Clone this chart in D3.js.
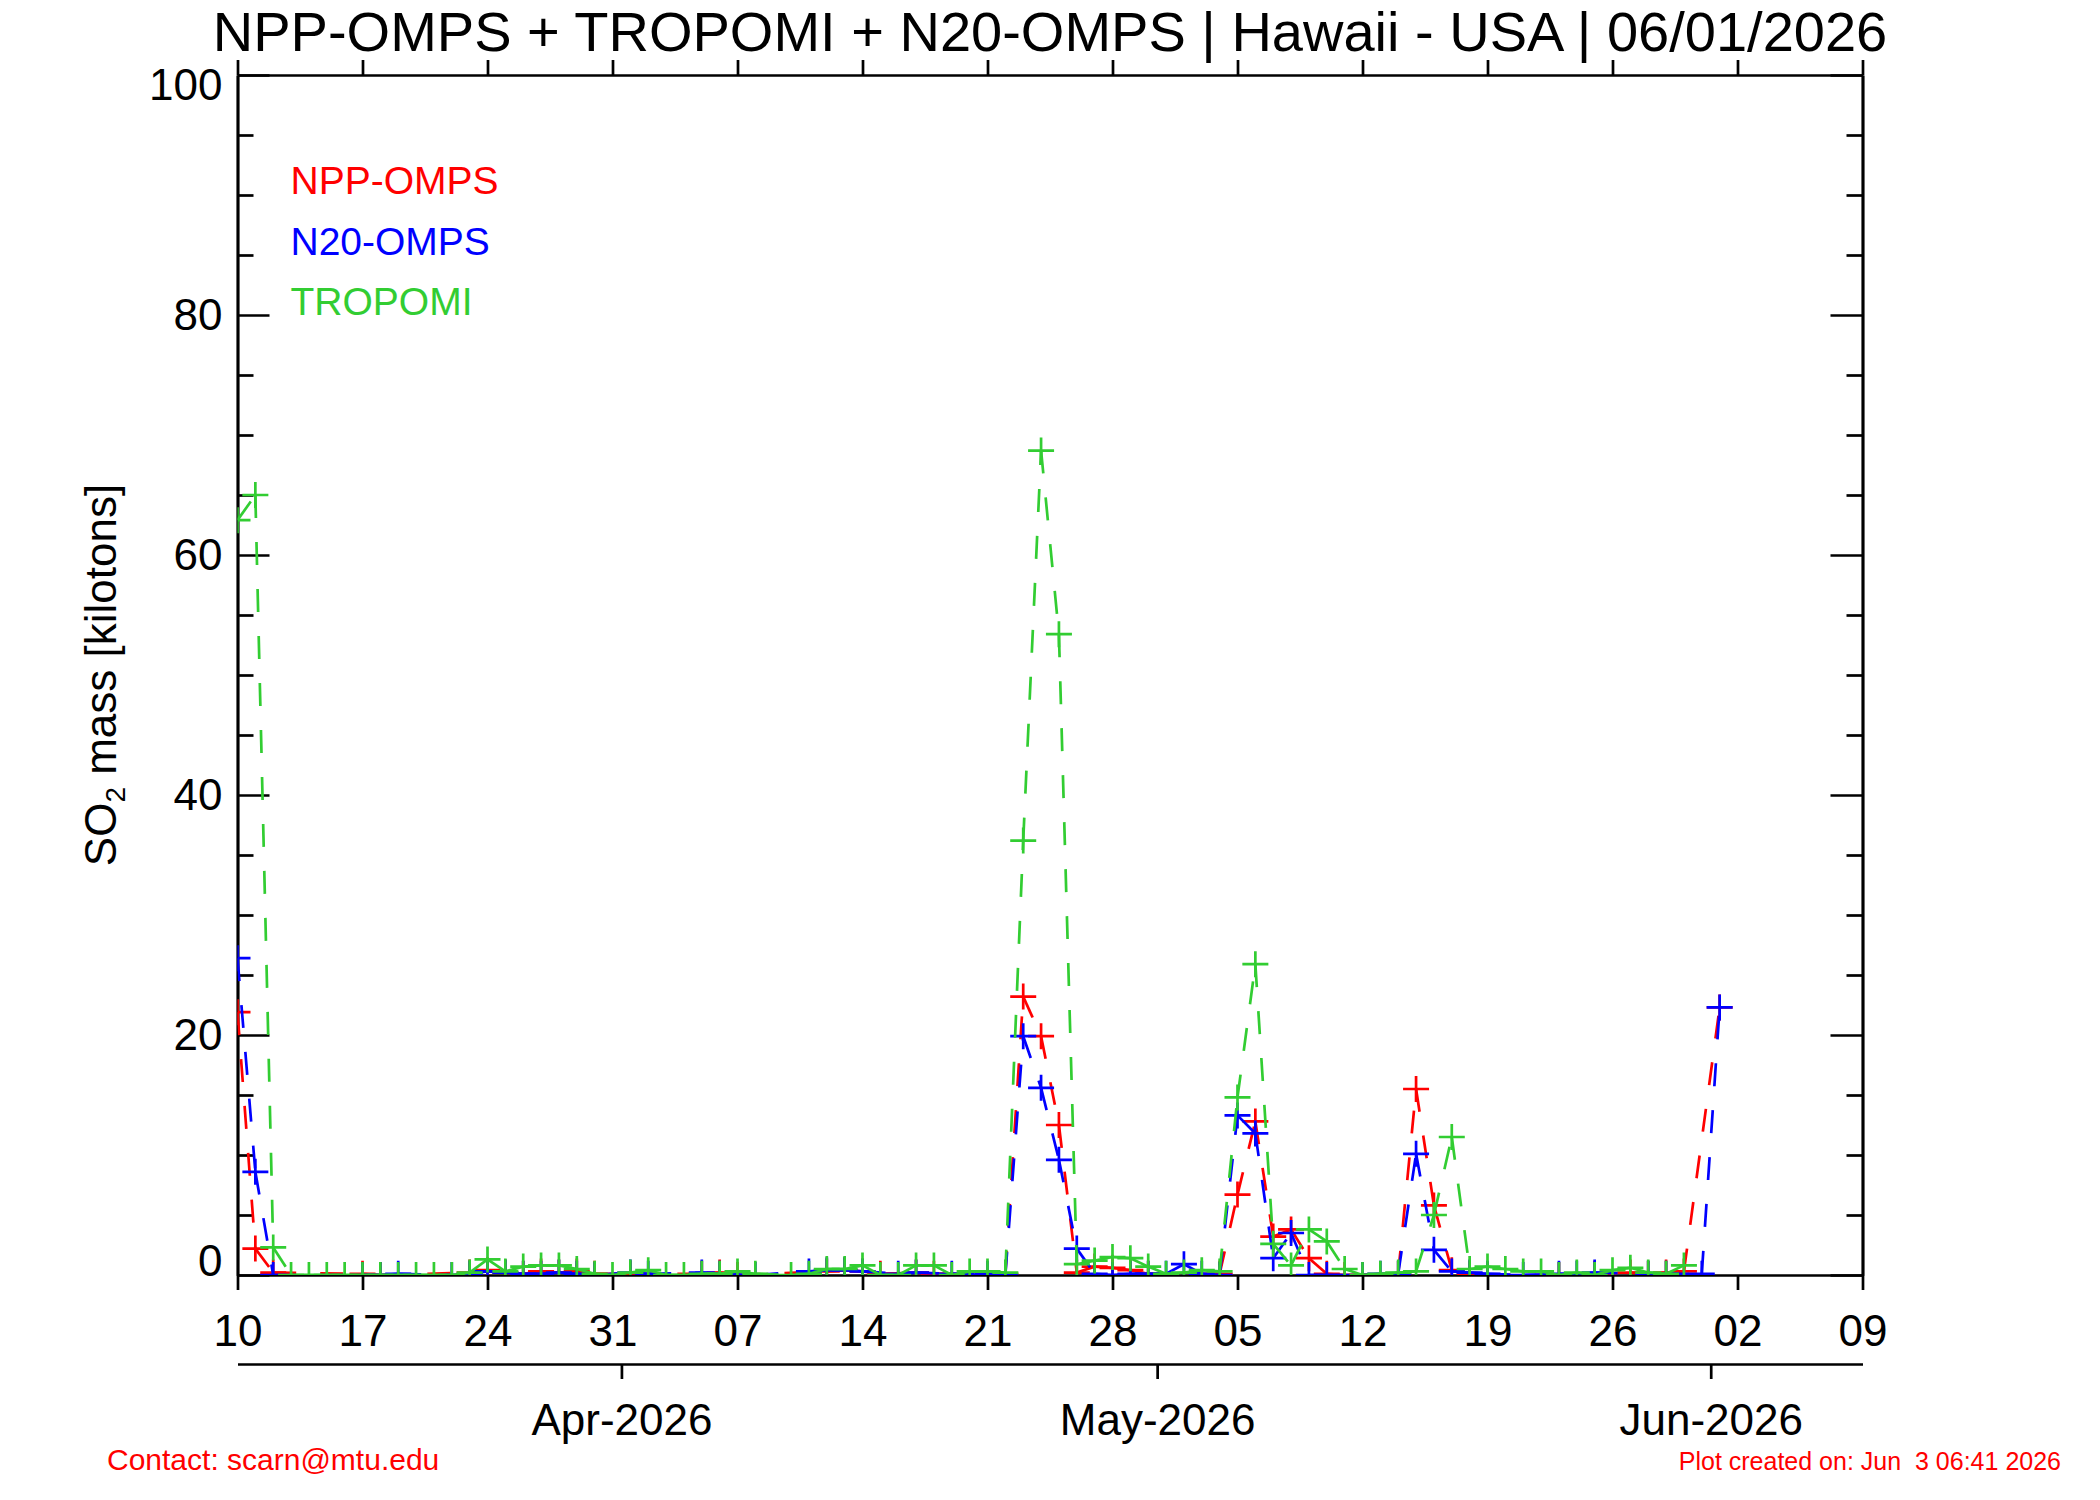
<!DOCTYPE html>
<html>
<head>
<meta charset="utf-8">
<script src="https://cdn.jsdelivr.net/npm/d3@7"></script>
<style>
  body { margin: 0; background: #fff; }
  text { font-family: "Liberation Sans", Arial, Helvetica, sans-serif; }
</style>
</head>
<body>
<div id="chart"></div>
<script>
// time window, one value per day starting at startDate (null = no overpass)
var startDate = "2026-03-10",
    endDate = "2026-06-09";

// SO2 mass in kilotons
var nppOmps = [
  21.9, 2.2, 0.2, null, null, null, null, 0.1, 0.0, null,
  null, null, null, 0.2, 0.4, 0.2, 0.1, 0.3, 0.2, 0.3,
  0.1, null, 0.1, null, null, null, 0.1, 0.2, 0.0, null,
  null, null, null, 0.3, 0.4, 0.3, 0.1, null, 0.2, 0.1,
  null, null, null, 0.1, 23.2, 19.9, 12.5, 0.2, 0.7, 0.6,
  0.4, 0.1, null, null, null, 0.1, 6.7, 12.8, 3.2, 3.8,
  1.4, 0.1, 0.0, null, null, 0.1, 15.5, 5.8, 0.4, 0.1,
  0.0, null, null, null, 0.0, null, 0.1, null, 0.2, 0.1,
  0.2, 0.3, null, 22.3
];

var n20Omps = [
  26.4, 8.6, 0.0, null, null, null, null, 0.0, 0.0, 0.1,
  null, null, 0.0, 0.1, 0.3, 0.2, 0.1, 0.1, 0.2, 0.1,
  0.0, null, 0.2, 0.1, null, null, 0.2, 0.1, null, 0.0,
  null, null, 0.3, 0.4, 0.4, 0.3, null, 0.1, 0.2, null,
  0.1, null, 0.1, 0.0, 19.9, 15.6, 9.6, 2.2, 0.1, 0.0,
  0.1, 0.1, 0.1, 0.9, 0.1, 0.0, 13.3, 11.8, 1.4, 3.5,
  0.0, 0.0, null, 0.0, 0.1, 0.1, 10.1, 2.1, 0.3, 0.2,
  0.1, null, 0.0, null, 0.1, 0.1, 0.2, null, null, 0.1,
  0.1, null, 0.1, 22.3
];

var tropomi = [
  62.9, 65.0, 2.3, 0.0, 0.0, 0.0, 0.0, 0.0, 0.0, 0.0,
  0.0, 0.0, 0.0, 0.2, 1.3, 0.3, 0.7, 0.8, 0.8, 0.5,
  0.1, 0.0, 0.2, 0.4, 0.0, 0.0, 0.1, 0.1, 0.3, 0.1,
  null, 0.0, 0.1, 0.5, 0.5, 0.8, 0.0, 0.0, 0.8, 0.8,
  0.0, 0.3, 0.3, 0.2, 36.2, 68.7, 53.4, 0.9, 1.2, 1.5,
  1.4, 0.7, 0.1, 0.2, 0.4, 0.3, 14.8, 25.9, 2.6, 0.8,
  3.8, 2.8, 0.5, 0.0, 0.1, 0.2, 0.3, 5.0, 11.5, 0.5,
  0.7, 0.5, 0.3, 0.3, 0.0, 0.2, 0.0, 0.4, 0.6, 0.2,
  0.1, 0.8, null, null
];

var seriesNames = ["NPP-OMPS", "N20-OMPS", "TROPOMI"];
var seriesColors = ["#ff0000", "#0000ff", "#32cd32"];

var yMajor = [0, 20, 40, 60, 80, 100];
var yMinor = [5, 10, 15, 25, 30, 35, 45, 50, 55, 65, 70, 75, 85, 90, 95];
var monthTicks = ["2026-04-01", "2026-05-01", "2026-06-01"];

var titleText = "NPP-OMPS + TROPOMI + N20-OMPS | Hawaii - USA | 06/01/2026";


// set up layout
var margin = { top: 75, right: 237.5, bottom: 225, left: 237.5 },
    width = 2100 - margin.left - margin.right,
    height = 1500 - margin.top - margin.bottom;

var parse = d3.utcParse("%Y-%m-%d"),
    start = parse(startDate),
    end = parse(endDate);

var x = d3.scaleUtc().domain([start, end]).range([0, width]);
var y = d3.scaleLinear().domain([0, 100]).range([height, 0]);

var weekTicks = d3.utcDay.range(start, d3.utcDay.offset(end, 1), 7);

var svg = d3.select("#chart").append("svg")
    .attr("width", 2100)
    .attr("height", 1500)
    .style("display", "block");

svg.append("rect")
    .attr("width", 2100)
    .attr("height", 1500)
    .attr("fill", "#fff");

var g = svg.append("g")
    .attr("transform", "translate(" + margin.left + "," + margin.top + ")");

svg.append("defs").append("clipPath")
    .attr("id", "plot-clip")
    .append("rect")
    .attr("width", width)
    .attr("height", height);


// axis styling shared by all axes
function styleAxis(sel, fontSize) {
    sel.select(".domain").attr("stroke", "#000").attr("stroke-width", 2.7);
    sel.selectAll(".tick line").attr("stroke", "#000").attr("stroke-width", 2.7);
    sel.selectAll(".tick text")
        .attr("fill", "#000")
        .style("font-size", fontSize + "px")
        .style("font-family", "'Liberation Sans', Arial, Helvetica, sans-serif");
}


// bottom x-axis (day of month), ticks pointing out
g.append("g")
    .attr("class", "x axis")
    .attr("transform", "translate(0," + height + ")")
    .call(d3.axisBottom(x)
        .tickValues(weekTicks)
        .tickFormat(d3.utcFormat("%d"))
        .tickSizeInner(15)
        .tickSizeOuter(0)
        .tickPadding(25))
    .call(styleAxis, 44);

// top x-axis, no labels
g.append("g")
    .attr("class", "x axis top")
    .call(d3.axisTop(x)
        .tickValues(weekTicks)
        .tickFormat("")
        .tickSizeInner(15)
        .tickSizeOuter(0))
    .call(styleAxis, 44);

// month axis below
g.append("g")
    .attr("class", "month axis")
    .attr("transform", "translate(0," + (height + 89) + ")")
    .call(d3.axisBottom(x)
        .tickValues(monthTicks.map(function (d) { return d3.utcHour.offset(parse(d), -12); }))
        .tickFormat(function (d) { return d3.utcFormat("%b-%Y")(d3.utcHour.offset(d, 12)); })
        .tickSizeInner(15)
        .tickSizeOuter(0)
        .tickPadding(25))
    .call(styleAxis, 44);


// left y-axis, ticks pointing in
var yLeft = g.append("g")
    .attr("class", "y axis")
    .call(d3.axisLeft(y)
        .tickValues(yMajor)
        .tickFormat(d3.format("d"))
        .tickSizeInner(-32)
        .tickSizeOuter(0)
        .tickPadding(15))
    .call(styleAxis, 44);

yLeft.selectAll(".tick text")
    .attr("dy", function (d) {
        if (d == 0) {
            return "0em";
        } else if (d == 100) {
            return "0.55em";
        }
        return "0.32em";
    });

g.append("g")
    .attr("class", "y axis minor")
    .call(d3.axisLeft(y)
        .tickValues(yMinor)
        .tickFormat("")
        .tickSizeInner(-16)
        .tickSizeOuter(0))
    .call(styleAxis, 44);

// right y-axis
g.append("g")
    .attr("class", "y axis right")
    .attr("transform", "translate(" + width + ",0)")
    .call(d3.axisRight(y)
        .tickValues(yMajor)
        .tickFormat("")
        .tickSizeInner(-32)
        .tickSizeOuter(0))
    .call(styleAxis, 44);

g.append("g")
    .attr("class", "y axis right minor")
    .attr("transform", "translate(" + width + ",0)")
    .call(d3.axisRight(y)
        .tickValues(yMinor)
        .tickFormat("")
        .tickSizeInner(-16)
        .tickSizeOuter(0))
    .call(styleAxis, 44);


// y-axis label with subscript
var yLabel = svg.append("text")
    .attr("transform", "translate(116," + (margin.top + height / 2) + ") rotate(-90)")
    .attr("text-anchor", "middle")
    .style("font-size", "44px")
    .attr("fill", "#000");

yLabel.append("tspan").text("SO");
yLabel.append("tspan").style("font-size", "28px").attr("dy", 9).text("2");
yLabel.append("tspan").attr("dy", -9).text(" mass [kilotons]");


// data: each series drawn as separate dashed segments plus "+" markers
var series = [nppOmps, n20Omps, tropomi].map(function (vals, i) {
    var pts = [];
    vals.forEach(function (v, k) {
        if (v != null) {
            pts.push({ date: d3.utcDay.offset(start, k), value: v });
        }
    });
    return { name: seriesNames[i], color: seriesColors[i], points: pts };
});

var plot = g.append("g").attr("clip-path", "url(#plot-clip)");

series.forEach(function (s) {
    var sg = plot.append("g").attr("class", "series");

    sg.selectAll(".seg")
        .data(d3.pairs(s.points))
        .enter().append("line")
        .attr("class", "seg")
        .attr("x1", function (p) { return x(p[0].date); })
        .attr("y1", function (p) { return y(p[0].value); })
        .attr("x2", function (p) { return x(p[1].date); })
        .attr("y2", function (p) { return y(p[1].value); })
        .attr("stroke", s.color)
        .attr("stroke-width", 2.7)
        .attr("stroke-dasharray", "23,24");

    sg.selectAll(".mark")
        .data(s.points)
        .enter().append("path")
        .attr("class", "mark")
        .attr("d", "M-13,0H13M0,-13V13")
        .attr("transform", function (d) { return "translate(" + x(d.date) + "," + y(d.value) + ")"; })
        .attr("stroke", s.color)
        .attr("stroke-width", 2.7)
        .attr("fill", "none");
});


// legend
g.selectAll(".legend")
    .data(series)
    .enter().append("text")
    .attr("class", "legend")
    .attr("x", 53)
    .attr("y", function (d, i) { return 119 + i * 60.5; })
    .attr("fill", function (d) { return d.color; })
    .style("font-size", "39px")
    .text(function (d) { return d.name; });


// title and footer
svg.append("text")
    .attr("x", margin.left + width / 2)
    .attr("y", 51)
    .attr("text-anchor", "middle")
    .attr("fill", "#000")
    .style("font-size", "56px")
    .text(titleText);

svg.append("text")
    .attr("x", 107)
    .attr("y", 1470)
    .attr("fill", "#ff0000")
    .style("font-size", "30px")
    .text("Contact: scarn@mtu.edu");

svg.append("text")
    .attr("x", 2061)
    .attr("y", 1470)
    .attr("text-anchor", "end")
    .attr("fill", "#ff0000")
    .style("font-size", "25px")
    .style("white-space", "pre")
    .text("Plot created on: Jun  3 06:41 2026");
</script>
</body>
</html>
